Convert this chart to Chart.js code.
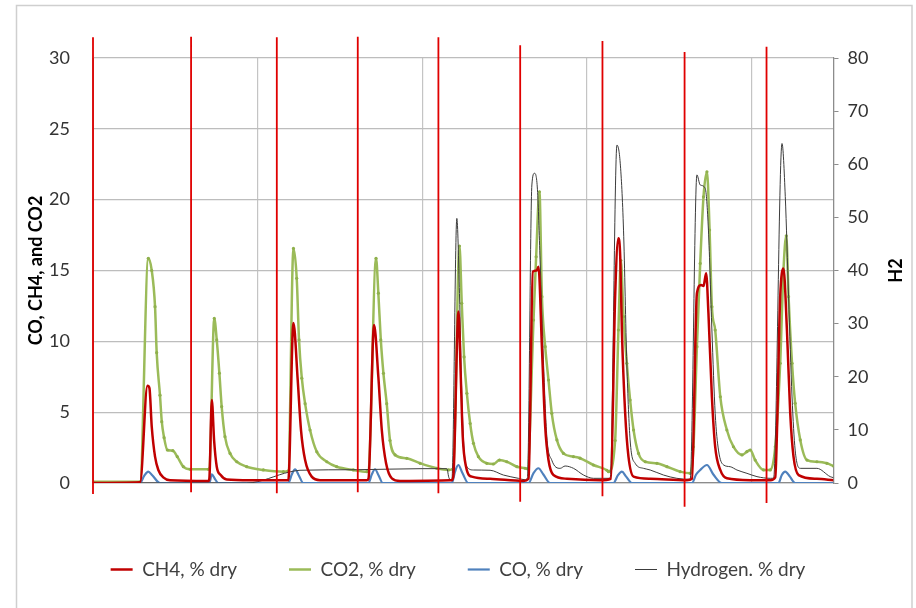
<!DOCTYPE html>
<html>
<head>
<meta charset="utf-8">
<script src="https://cdn.jsdelivr.net/npm/chart.js@4/dist/chart.umd.min.js"></script>
<style>
  html, body { margin: 0; padding: 0; background: #fff; }
  #wrap { width: 916px; height: 608px; position: relative; }
</style>
</head>
<body>
<div id="wrap"><canvas id="c"></canvas></div>
<script>
// ---- data (x = elapsed time, arbitrary units on the unlabeled x axis) ----
const seriesNames = ['CH4, % dry', 'CO2, % dry', 'CO, % dry', 'Hydrogen. % dry'];

const ch4X = [0, 0.286, 0.331, 0.343, 0.357, 0.377, 0.397, 0.427, 0.468, 0.701, 0.707, 0.722, 0.736, 0.752, 0.776, 0.813, 0.954, 1.187, 1.218, 1.244, 1.264, 1.289, 1.329, 1.380, 1.664, 1.674, 1.708, 1.734, 1.755, 1.781, 1.816, 1.866, 2.181, 2.190, 2.221, 2.235, 2.247, 2.267, 2.302, 2.413, 2.616, 2.647, 2.673, 2.697, 2.707, 2.728, 2.748, 2.768, 2.798, 2.880, 3.082, 3.147, 3.173, 3.193, 3.204, 3.214, 3.234, 3.254, 3.285, 3.386, 3.609, 3.640, 3.670, 3.696, 3.710, 3.726, 3.740, 3.761, 3.781, 3.812, 3.852, 3.994, 4.116, 4.146, 4.176, 4.196, 4.217, 4.237, 4.257, 4.288, 4.399, 4.5];
const ch4Y = [0, 0.05, 6.87, 6.7, 3.97, 1.86, 0.92, 0.4, 0.2, 0.15, 0.3, 5.86, 3.0, 1.15, 0.56, 0.25, 0.2, 0.2, 11.3, 7.27, 3.74, 1.62, 0.45, 0.2, 0.2, 0.3, 11.15, 7.5, 3.74, 1.39, 0.33, 0.15, 0.2, 0.5, 12.1, 7.5, 3.27, 1.15, 0.45, 0.3, 0.15, 0.3, 14.92, 15.0, 15.27, 9.62, 3.97, 1.62, 0.56, 0.3, 0.2, 0.3, 13.15, 17.27, 15.97, 10.8, 4.92, 1.86, 0.45, 0.3, 0.2, 0.3, 13.39, 13.98, 13.9, 14.8, 11.98, 6.09, 2.56, 0.92, 0.33, 0.2, 0.2, 0.4, 13.15, 15.15, 10.8, 4.92, 1.86, 0.56, 0.3, 0.2];

const co2X = [0, 0.286, 0.336, 0.357, 0.377, 0.387, 0.407, 0.418, 0.432, 0.452, 0.485, 0.512, 0.549, 0.590, 0.701, 0.707, 0.737, 0.752, 0.768, 0.782, 0.802, 0.833, 0.874, 0.934, 1.035, 1.157, 1.187, 1.218, 1.238, 1.252, 1.269, 1.289, 1.319, 1.360, 1.421, 1.481, 1.582, 1.664, 1.674, 1.720, 1.734, 1.749, 1.765, 1.785, 1.805, 1.836, 1.907, 1.988, 2.089, 2.160, 2.190, 2.227, 2.241, 2.255, 2.272, 2.292, 2.312, 2.342, 2.393, 2.433, 2.470, 2.515, 2.576, 2.626, 2.640, 2.677, 2.693, 2.713, 2.728, 2.748, 2.768, 2.788, 2.819, 2.859, 2.920, 2.960, 3.041, 3.123, 3.133, 3.173, 3.193, 3.208, 3.224, 3.244, 3.264, 3.285, 3.315, 3.356, 3.427, 3.488, 3.568, 3.629, 3.649, 3.670, 3.690, 3.710, 3.731, 3.747, 3.761, 3.781, 3.812, 3.852, 3.892, 3.944, 3.974, 3.994, 4.024, 4.075, 4.116, 4.146, 4.176, 4.196, 4.213, 4.227, 4.248, 4.267, 4.298, 4.339, 4.399, 4.460, 4.5];
const co2Y = [0.08, 0.08, 15.86, 15.0, 12.45, 9.2, 6.2, 4.33, 3.2, 2.33, 2.28, 1.86, 1.15, 0.97, 0.97, 1.0, 11.62, 10.1, 7.75, 5.39, 3.27, 2.09, 1.5, 1.15, 0.92, 0.8, 0.85, 16.56, 14.45, 10.1, 7.4, 5.6, 3.74, 2.2, 1.5, 1.15, 0.92, 0.8, 0.85, 15.86, 13.4, 10.1, 7.74, 5.6, 3.0, 1.98, 1.74, 1.39, 1.04, 0.92, 1.04, 16.73, 12.68, 8.9, 6.33, 4.2, 2.8, 1.86, 1.39, 1.34, 1.62, 1.5, 1.15, 1.04, 1.0, 11.5, 15.97, 20.56, 13.15, 9.62, 7.27, 4.92, 3.04, 2.09, 1.86, 1.75, 1.27, 0.9, 0.8, 3.0, 10.8, 15.7, 11.74, 8.45, 5.86, 3.74, 2.09, 1.5, 1.39, 1.15, 0.8, 0.68, 2.56, 9.62, 15.5, 20.2, 21.97, 17.86, 12.44, 10.8, 6.09, 3.74, 2.56, 1.98, 2.21, 2.33, 1.62, 0.92, 0.92, 2.56, 8.45, 15.03, 17.45, 13.15, 8.45, 5.63, 3.04, 1.62, 1.5, 1.39, 1.2];

const coX = [0, 0.286, 0.311, 0.336, 0.360, 0.407, 0.707, 0.722, 0.740, 0.762, 1.187, 1.208, 1.228, 1.250, 1.278, 1.674, 1.694, 1.714, 1.735, 1.761, 2.181, 2.200, 2.220, 2.245, 2.281, 2.647, 2.677, 2.707, 2.737, 2.778, 3.163, 3.190, 3.214, 3.240, 3.275, 3.640, 3.665, 3.690, 3.731, 3.770, 3.822, 4.166, 4.185, 4.207, 4.235, 4.267, 4.5];
const coY = [0, 0, 0.5, 0.8, 0.55, 0, 0, 0.61, 0.3, 0, 0, 0.6, 0.97, 0.55, 0, 0, 0.6, 0.97, 0.55, 0, 0, 0.8, 1.27, 0.7, 0, 0, 0.7, 1.04, 0.6, 0, 0, 0.55, 0.8, 0.45, 0, 0, 0.6, 0.92, 1.27, 0.6, 0, 0, 0.55, 0.8, 0.45, 0, 0];

const h2X = [0, 0.934, 1.198, 1.258, 1.6, 2.0, 2.150, 2.164, 2.181, 2.211, 2.227, 2.241, 2.255, 2.272, 2.312, 2.413, 2.494, 2.585, 2.626, 2.640, 2.667, 2.683, 2.701, 2.717, 2.737, 2.758, 2.788, 2.839, 2.869, 2.920, 2.981, 3.041, 3.131, 3.143, 3.184, 3.204, 3.224, 3.244, 3.264, 3.295, 3.345, 3.386, 3.467, 3.548, 3.629, 3.670, 3.690, 3.720, 3.740, 3.761, 3.781, 3.801, 3.832, 3.872, 3.913, 3.974, 4.035, 4.116, 4.136, 4.187, 4.207, 4.227, 4.248, 4.267, 4.298, 4.399, 4.480, 4.5];
const h2Y = [0, 0, 2.1, 2.4, 2.5, 2.7, 2.7, 0.9, 0.6, 49.8, 35.7, 16.9, 6.2, 3.07, 2.45, 2.4, 1.5, 0.88, 0.6, 1.0, 56.1, 58.3, 55.2, 42, 23.2, 8.7, 4.3, 2.76, 3.2, 2.76, 1.5, 0.88, 0.88, 0.9, 63.6, 60.2, 47.6, 22.5, 8.1, 3.7, 2.76, 2.45, 1.5, 0.88, 0.7, 58.0, 56.1, 55.5, 47.6, 28.8, 13.1, 6.2, 3.4, 3.07, 2.45, 1.82, 1.2, 0.88, 0.9, 63.9, 53.9, 35.1, 16.2, 6.2, 2.76, 2.76, 1.2, 1.0];

// red vertical marker lines (x position, top and bottom in left-axis units)
const markerX = [0, 0.596, 1.117, 1.609, 2.099, 2.596, 3.096, 3.595, 4.093];
const markerTop = [31.46, 31.5, 31.46, 31.5, 31.46, 30.9, 31.2, 30.42, 30.8];
const markerBottom = [-0.78, -0.66, -0.73, -0.66, -0.73, -1.32, -0.94, -1.67, -1.41];

// axis ranges / ticks
const xRange = [0, 4.5];
const leftRange = [0, 30, 5];
const rightRange = [0, 80, 10];
const leftTitle = 'CO, CH4, and CO2';
const rightTitle = 'H2';

// ---- build ----
function pts(xs, ys) { const n = Math.min(xs.length, ys.length); const a = []; for (let i = 0; i < n; i++) a.push({x: xs[i], y: ys[i]}); return a; }
const markerPts = [];
markerX.forEach((x, i) => { markerPts.push({x: x, y: markerTop[i]}, {x: x, y: markerBottom[i]}, {x: x, y: null}); });

const FONT = 'Lato, "Open Sans", "DejaVu Sans", sans-serif';

const framePlugin = {
  id: 'frame',
  beforeDraw(chart) {
    const ctx = chart.ctx;
    ctx.save();
    ctx.fillStyle = '#ffffff';
    ctx.fillRect(0, 0, chart.width, chart.height);
    ctx.strokeStyle = '#cfcfcf';
    ctx.lineWidth = 1.5;
    ctx.strokeRect(16.5, 5.5, 895.5, chart.height + 10);
    ctx.restore();
  },
  afterDraw(chart) {
    const ctx = chart.ctx;
    const a = chart.chartArea;
    ctx.save();
    ctx.translate(chart.width - 19.5, (a.top + a.bottom) / 2);
    ctx.rotate(-Math.PI / 2);
    ctx.font = 'bold 18px ' + FONT;
    ctx.fillStyle = '#000';
    ctx.textAlign = 'center';
    ctx.textBaseline = 'middle';
    ctx.fillText(rightTitle, 0, 0);
    ctx.restore();
  }
};

new Chart(document.getElementById('c'), {
  type: 'line',
  data: {
    datasets: [
      { label: seriesNames[0], data: pts(ch4X, ch4Y), borderColor: '#c00000', backgroundColor: '#c00000', borderWidth: 2.5, pointRadius: 0, cubicInterpolationMode: 'monotone', yAxisID: 'y', order: 1 },
      { label: seriesNames[1], data: pts(co2X, co2Y), borderColor: '#9bbb59', backgroundColor: '#9bbb59', borderWidth: 2.5, pointRadius: 1.6, pointBorderWidth: 0, pointBackgroundColor: '#8fb04c', cubicInterpolationMode: 'monotone', yAxisID: 'y', order: 3 },
      { label: seriesNames[2], data: pts(coX, coY), borderColor: '#4f81bd', backgroundColor: '#4f81bd', borderWidth: 2.2, pointRadius: 0, cubicInterpolationMode: 'monotone', yAxisID: 'y', order: 2 },
      { label: seriesNames[3], data: pts(h2X, h2Y), borderColor: '#3c3c3c', backgroundColor: '#3c3c3c', borderWidth: 1, pointRadius: 0, cubicInterpolationMode: 'monotone', yAxisID: 'y2', order: 1.5 },
      { label: 'markers', data: markerPts, borderColor: '#e00000', backgroundColor: '#e00000', borderWidth: 1.8, pointRadius: 0, spanGaps: false, clip: false, yAxisID: 'y', order: 0 }
    ]
  },
  options: {
    responsive: true,
    maintainAspectRatio: false,
    animation: false,
    events: [],
    layout: { padding: { top: 58, left: 0, right: 0, bottom: 19 } },
    plugins: {
      tooltip: { enabled: false },
      legend: {
        position: 'bottom',
        labels: {
          generateLabels(chart) {
            const items = Chart.defaults.plugins.legend.labels.generateLabels(chart);
            items.forEach(it => {
              const ds = chart.data.datasets[it.datasetIndex];
              it.lineWidth = ds.borderWidth;
              it.strokeStyle = ds.borderColor;
              it.fillStyle = ds.borderColor;
            });
            return items;
          },
          filter: (item) => item.text !== 'markers',
          sort: (a, b) => a.datasetIndex - b.datasetIndex,
          usePointStyle: true,
          pointStyle: 'line',
          pointStyleWidth: 22,
          boxHeight: 19,
          padding: 52,
          color: '#404040',
          font: { family: FONT, size: 19 }
        }
      }
    },
    scales: {
      x: {
        type: 'linear', min: xRange[0], max: xRange[1],
        ticks: { display: false, stepSize: 1 },
        grid: { color: '#c4c4c4', lineWidth: 1.2, drawTicks: false },
        border: { color: '#8c8c8c', width: 1.2 },
        afterFit(s) { s.height = 25; }
      },
      y: {
        position: 'left', min: leftRange[0], max: leftRange[1],
        ticks: { stepSize: leftRange[2], padding: 23, color: '#333', font: { family: FONT, size: 18 } },
        grid: { color: '#bdbdbd', lineWidth: 1.2, drawTicks: false },
        border: { color: '#8c8c8c' },
        title: { display: true, text: leftTitle, color: '#000', font: { family: FONT, size: 18, weight: 'bold' }, padding: { top: 25, bottom: 0 } },
        afterFit(s) { s.width = 93; }
      },
      y2: {
        position: 'right', min: rightRange[0], max: rightRange[1],
        ticks: { stepSize: rightRange[2], padding: 9, color: '#333', font: { family: FONT, size: 18 } },
        grid: { drawOnChartArea: false, drawTicks: true, tickLength: 5, color: '#8c8c8c' },
        border: { color: '#8c8c8c', width: 1.2 },
        afterFit(s) { s.width = 82.5; }
      }
    }
  },
  plugins: [framePlugin]
});
</script>
</body>
</html>
